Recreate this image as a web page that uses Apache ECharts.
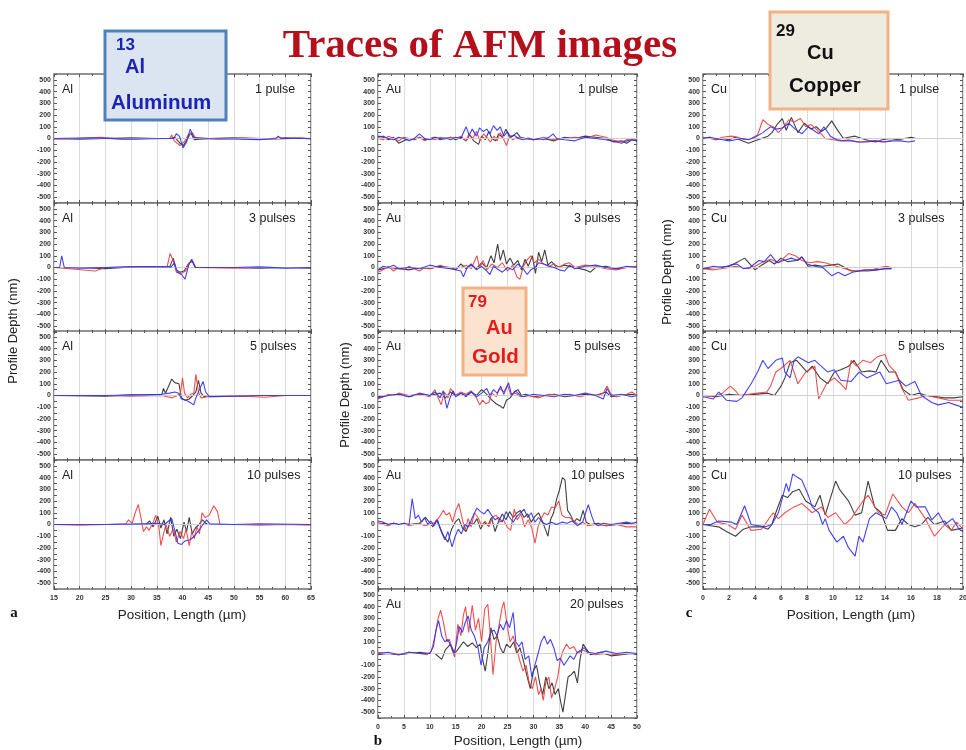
<!DOCTYPE html>
<html><head><meta charset="utf-8">
<script src="https://cdn.jsdelivr.net/npm/echarts@6/dist/echarts.min.js"></script>
<style>html,body{margin:0;padding:0;background:#fff;}#c{width:966px;height:750px;}</style>
</head><body><div id="c"></div>
<script>
// ---------- tick / axis definitions ----------
const yTickValues = [-500,-400,-300,-200,-100,0,100,200,300,400,500];
const alXTicks = [15,20,25,30,35,40,45,50,55,60,65];
const auXTicks = [0,5,10,15,20,25,30,35,40,45,50];
const cuXTicks = [0,2,4,6,8,10,12,14,16,18,20];
const alPulses = ['1 pulse','3 pulses','5 pulses','10 pulses'];
const auPulses = ['1 pulse','3 pulses','5 pulses','10 pulses','20 pulses'];
const cuPulses = ['1 pulse','3 pulses','5 pulses','10 pulses'];

// ---------- Al (a) ----------
const al1Black = [[15,0],[20,-5],[25,0],[30,5],[35,0],[37.5,0],[38.5,10],[39.5,-40],[40.2,-60],[41,0],[41.6,50],[42.3,-10],[45,0],[50,5],[55,-5],[60,5],[65,0]];
const al1Red = [[15,-5],[20,0],[24,10],[28,-5],[33,0],[37.5,0],[37.9,30],[38.4,-20],[39.5,-60],[40.3,-30],[41.1,30],[41.9,50],[42.6,0],[47,-5],[52,5],[58,-5],[63,5],[65,-5]];
const al1Blue = [[15,0],[22,5],[30,-5],[37,0],[38.3,0],[38.8,40],[39.4,20],[40.1,-80],[40.8,-30],[41.5,80],[42.2,10],[45,0],[55,-10],[58.2,0],[58.6,20],[59.2,0],[65,0]];

const al3Black = [[15,0],[20,0],[25,-10],[30,5],[35,5],[37.5,5],[38.2,80],[38.8,-20],[39.5,-40],[40.3,-30],[41,20],[41.8,60],[42.5,0],[50,0],[55,-5],[60,0],[65,-5]];
const al3Red = [[15,0],[18,-10],[23,-30],[25,0],[30,5],[37,5],[37.6,120],[38.2,60],[38.8,-40],[39.8,-50],[40.6,-30],[41.3,40],[42,50],[42.6,0],[50,-5],[57,0],[65,0]];
const al3Blue = [[15,0],[16.1,0],[16.5,100],[17,0],[20,-5],[25,0],[30,5],[37.8,5],[38.4,40],[39,-40],[39.8,-60],[40.5,-100],[41.2,20],[41.8,70],[42.5,0],[50,0],[55,5],[60,-5],[65,0]];

const al5Black = [[15,0],[25,-5],[30,5],[35,5],[36,10],[36.3,60],[36.7,20],[37.9,140],[38.5,110],[39.3,100],[39.8,-20],[40.5,-40],[41.3,-30],[42,0],[42.6,30],[43.1,130],[43.6,20],[44.2,-10],[45,0],[55,0],[65,0]];
const al5Red = [[15,0],[25,0],[30,-5],[36,0],[37,-10],[38,-20],[39,0],[39.6,20],[40,150],[40.4,20],[41,-20],[41.6,10],[42.2,20],[42.6,180],[43.1,30],[43.6,-20],[45,-10],[52,-5],[56,-15],[60,0],[65,0]];
const al5Blue = [[15,0],[25,0],[33,5],[36,10],[37.5,20],[38.5,30],[39.3,20],[39.8,-30],[40.7,-40],[41.5,-60],[42.2,-80],[42.6,-20],[43.3,50],[44,120],[44.5,30],[45.2,-10],[50,-5],[55,0],[65,0]];

const al10Black = [[15,0],[30,0],[33,5],[33.6,30],[34.3,-20],[35.2,70],[35.8,-30],[36.4,40],[37,-80],[37.7,60],[38.3,-100],[38.9,-40],[39.6,-120],[40.3,20],[40.8,-60],[41.3,60],[41.9,-80],[42.5,-30],[43.2,0],[43.9,40],[44.5,10],[45,0],[55,0],[65,0]];
const al10Red = [[15,0],[20,-5],[25,0],[29,5],[29.5,40],[30.2,10],[30.8,100],[31.4,170],[31.9,60],[32.4,-60],[33,-20],[33.5,-50],[34.2,10],[34.8,80],[35.4,-20],[35.8,-180],[36.3,-80],[36.8,0],[37.5,-100],[38.2,-40],[38.8,-150],[39.5,-60],[40.2,-120],[40.7,-40],[41.3,-180],[41.8,-60],[42.3,-120],[42.8,-20],[43.3,-80],[43.8,100],[44.4,60],[45.2,80],[46.1,160],[46.8,110],[47.3,0],[50,0],[55,-5],[60,0],[65,-5]];
const al10Blue = [[15,0],[25,0],[33,5],[35,10],[36.5,0],[37.3,30],[37.9,50],[38.5,-50],[39.1,-160],[39.8,-170],[40.5,-140],[41.5,-130],[42.3,-100],[43.2,-50],[44,0],[44.7,40],[45.3,5],[50,0],[55,5],[65,0]];

// ---------- Au (b) ----------
const au1Black = [[0,20],[1,10],[2,-10],[3,10],[4,-40],[5,-20],[6,0],[7,-10],[8,10],[9,-10],[10,0],[11,10],[12,-10],[13,0],[14,10],[15,-10],[16,10],[17,-20],[17.7,30],[18.5,-20],[19.4,-50],[20,20],[20.7,-10],[21.4,60],[22,0],[22.7,-20],[23.3,40],[24,10],[24.7,80],[25.3,20],[26,20],[26.8,50],[27.5,10],[28.5,0],[30,-10],[32,0],[34,-20],[36,10],[38,0],[40,20],[42,10],[44,0],[45.5,-30],[47,-20],[48,-40],[49,-10],[50,-20]];
const au1Red = [[0,0],[1,-10],[2,20],[3,0],[4,-20],[5,10],[6,0],[7,-10],[8,10],[9,-20],[10,0],[11,-10],[12,10],[13,-5],[14,10],[15,0],[16,20],[17,-20],[17.6,40],[18.3,0],[19,60],[19.7,-20],[20.4,40],[21,10],[21.7,-30],[22.4,20],[23,-20],[23.6,50],[24.2,0],[24.8,-60],[25.4,20],[26,-10],[27,10],[28,0],[30,-10],[32,10],[34,-10],[36,0],[38,10],[40,0],[42,30],[44,10],[45,-10],[46,-20],[47,-30],[48,-10],[49,0],[50,-10]];
const au1Blue = [[0,10],[1,20],[2,0],[3,-10],[4,10],[5,0],[6,-20],[7,0],[8,40],[9,0],[10,-10],[11,10],[12,0],[13,5],[14,-10],[15,10],[16,0],[17,100],[17.6,30],[18.2,80],[19,20],[19.6,90],[20.3,60],[21,80],[21.6,40],[22.3,110],[23,70],[23.6,100],[24.3,20],[25,60],[25.6,10],[26.3,30],[27,0],[28,-10],[29,5],[30,-10],[31,0],[32,-10],[33,10],[33.8,40],[34.5,0],[36,-10],[38,-20],[40,10],[42,0],[44,-10],[46,-30],[47,-40],[48,-20],[49,-10],[50,-20]];

const au3Black = [[0,-20],[2,0],[4,-10],[6,-20],[8,0],[10,-10],[12,10],[14,0],[15,-20],[16,30],[17,-10],[18,20],[19,-10],[20,40],[21,0],[21.8,100],[22.4,40],[23.1,200],[23.6,60],[24.2,150],[24.8,30],[25.5,80],[26.2,20],[27,60],[27.7,-20],[28.4,70],[29,10],[29.8,100],[30.4,-50],[31,130],[31.6,50],[32.2,150],[32.8,20],[33.5,50],[34.5,0],[36,20],[38,0],[40,-20],[41,-40],[42,0],[44,10],[46,-10],[48,0],[50,10]];
const au3Red = [[0,-40],[1,-20],[2,10],[3,-30],[4,0],[5,-20],[6,10],[7,-10],[8,-30],[9,0],[10,-10],[12,20],[14,-10],[16,0],[17,20],[18,-10],[19.1,100],[19.6,0],[20.3,60],[21,-20],[22,30],[23,0],[24,40],[25,-30],[26,20],[26.8,-80],[27.4,-100],[28,0],[28.7,60],[29.5,100],[30.2,40],[31,70],[32,30],[33,10],[34,30],[35,0],[36,30],[37,40],[38,0],[40,20],[42,10],[44,-10],[46,-20],[48,0],[50,10]];
const au3Blue = [[0,-20],[1,10],[2,0],[3,20],[4,-10],[6,0],[8,-10],[10,20],[12,0],[14,-10],[16,-30],[16.5,-80],[17.2,0],[18,30],[19,-20],[20,10],[21,-30],[21.6,-60],[22.3,10],[23,-10],[24,-40],[25,0],[26,-20],[27,30],[28,-10],[28.8,-60],[29.5,-20],[30.3,0],[31,40],[32,30],[33,10],[34,0],[35,-20],[36,-30],[37,20],[38,-10],[40,10],[42,20],[44,0],[46,-10],[48,10],[50,0]];

const au5Black = [[0,-10],[2,0],[4,10],[6,-10],[8,10],[10,0],[12,20],[13,-20],[14,30],[15,0],[16,20],[17,-10],[18,30],[19,0],[20,50],[21,10],[22,-40],[22.8,-70],[23.6,-90],[24.2,-110],[24.8,-40],[25.5,-20],[26.3,30],[27,50],[27.7,0],[28.5,10],[30,-10],[32,0],[34,10],[36,-10],[38,0],[40,10],[42,0],[44,30],[45,-10],[47,0],[49,10],[50,0]];
const au5Red = [[0,-30],[1,-10],[2,10],[3,0],[4,20],[6,0],[8,10],[10,-10],[11,50],[11.6,-20],[12.2,-80],[12.8,30],[13.5,-20],[14,60],[15,0],[16,30],[17,10],[18,40],[19,-20],[19.6,-80],[20.2,-40],[20.8,-70],[21.4,-60],[22,20],[22.8,-10],[23.5,60],[24.3,30],[25,90],[25.6,10],[26.5,20],[27.5,-10],[29,0],[31,-20],[33,10],[35,0],[37,10],[39,-10],[41,10],[42.5,0],[43.5,20],[44.2,80],[45,10],[46,-10],[48,10],[49,30],[50,0]];
const au5Blue = [[0,-20],[2,0],[4,10],[6,-10],[8,20],[10,0],[11,30],[12,-20],[12.6,40],[13.3,-110],[13.9,-20],[14.5,40],[15,-10],[16,20],[17,0],[18,30],[19,-10],[20,20],[21,60],[21.6,0],[22.3,50],[23,20],[23.7,80],[24.3,10],[25.2,110],[25.8,0],[26.5,40],[27.5,0],[28,-10],[30,10],[32,0],[34,-10],[36,10],[38,0],[40,20],[42,0],[43.5,-30],[44.2,60],[45,0],[47,10],[49,-10],[50,0]];

const au10Black = [[0,0],[1,10],[2,0],[3,10],[4,0],[6,0],[8,10],[9.2,60],[9.9,20],[10.6,-20],[11.3,40],[12,-30],[12.7,-100],[13.5,-150],[14.2,-40],[14.9,20],[15.6,50],[16.3,-30],[17,-60],[17.7,20],[18.4,0],[19.1,50],[19.8,-40],[20.5,20],[21.2,-10],[21.9,60],[22.6,-60],[23.3,30],[24,90],[24.7,40],[25.4,110],[26.1,60],[26.8,100],[27.5,120],[28.2,60],[28.9,90],[29.6,20],[30.3,70],[31,100],[31.7,30],[32.4,-50],[32.8,-100],[33.3,40],[33.9,100],[34.5,220],[35,290],[35.6,400],[36.1,380],[36.6,120],[37.2,80],[37.8,20],[38.4,50],[39,30],[39.6,120],[40.2,20],[41,0],[42.5,10],[44,-10],[46,0],[48,10],[50,0]];
const au10Red = [[0,20],[1,0],[2,-10],[3,10],[4,0],[5,10],[6,-10],[7,0],[8,10],[9,-10],[10,0],[11,20],[11.8,60],[12.6,120],[13.2,80],[13.8,100],[14.4,20],[15,120],[15.6,180],[16.2,60],[16.8,-50],[17.4,50],[18,-20],[18.6,100],[19.3,60],[20,-10],[20.7,30],[21.4,-20],[22.1,60],[22.8,80],[23.5,20],[24.2,40],[24.9,-20],[25.6,-50],[26.3,130],[26.9,40],[27.6,90],[28.3,-20],[29,40],[29.7,-30],[30.3,-160],[30.9,-20],[31.5,50],[32.1,100],[32.8,80],[33.5,150],[34.2,140],[34.9,200],[35.5,80],[36.2,60],[37,60],[37.8,30],[38.6,0],[39.5,20],[40.5,-10],[42,0],[44,-10],[46,0],[48,-20],[50,-20]];
const au10Blue = [[0,30],[1,20],[2,0],[3,10],[4,0],[5,10],[6,0],[6.6,220],[7.2,50],[7.8,80],[8.4,20],[9,60],[9.6,0],[10.2,30],[10.8,-10],[11.5,40],[12.2,-60],[12.9,-130],[13.5,-60],[14.3,-190],[14.9,-100],[15.5,-40],[16.1,-80],[16.8,0],[17.5,-20],[18.2,60],[19.1,140],[19.8,110],[20.5,90],[21.2,130],[21.9,80],[22.6,40],[23.3,60],[24,20],[24.7,110],[25.4,60],[26.1,20],[26.8,70],[27.5,100],[28.2,130],[28.9,60],[29.6,100],[30.3,20],[31,60],[31.7,20],[32.5,0],[33.5,20],[34.5,0],[35.5,20],[36.5,10],[37.5,30],[38.5,-10],[39.5,20],[40.1,100],[40.6,170],[41.2,80],[41.8,10],[42.5,-10],[43.5,10],[45,0],[46.5,10],[48,20],[49,10],[50,20]];

const au20Black = [[0,-10],[2,0],[4,-10],[6,0],[8,10],[10,0],[11,0],[12.3,-50],[13,30],[14,80],[14.8,0],[15.5,40],[16.5,100],[17.3,60],[18.2,90],[19,50],[19.7,80],[20.2,-50],[20.7,-150],[21.2,0],[21.8,220],[22.4,120],[23,150],[23.6,50],[24.2,0],[24.8,80],[25.5,50],[26.2,100],[26.8,0],[27.4,50],[28,-50],[28.8,-200],[29.4,-300],[30,-150],[30.6,-100],[31.2,-250],[31.8,-350],[32.4,-200],[33,-300],[33.6,-250],[34.2,-350],[34.8,-300],[35.3,-420],[35.7,-500],[36.2,-350],[36.7,-200],[37.3,-180],[37.9,-150],[38.5,-250],[39,-50],[39.6,80],[40.2,40],[41,-10],[43,10],[45,-20],[47,-10],[49,0],[50,-10]];
const au20Red = [[0,10],[2,0],[4,-10],[6,10],[8,0],[9.5,-10],[10.3,20],[11,150],[11.6,300],[12.1,370],[12.7,250],[13.3,100],[13.8,120],[14.3,30],[14.8,-30],[15.4,250],[16,150],[16.5,330],[16.9,400],[17.5,180],[18.2,410],[18.8,200],[19.4,300],[20,100],[20.6,380],[21.2,420],[21.7,150],[22.2,-180],[22.8,100],[23.4,250],[23.9,380],[24.3,440],[24.9,250],[25.5,100],[26.1,150],[26.7,50],[27.3,-50],[28,-150],[28.6,-100],[29.2,-250],[29.8,-300],[30.4,-200],[31,-350],[31.5,-300],[31.9,-400],[32.4,-250],[33,-200],[33.5,-380],[34.1,-300],[34.7,-200],[35.2,-50],[35.8,30],[36.4,80],[37,40],[37.8,60],[38.5,0],[39.5,30],[40.5,10],[42,-10],[44,0],[46,-10],[48,0],[50,0]];
const au20Blue = [[0,0],[2,10],[4,-10],[6,10],[8,0],[10,0],[10.7,60],[11.2,200],[11.7,280],[12.3,150],[12.9,100],[13.5,120],[14.1,60],[14.7,0],[15.2,100],[15.7,230],[16.3,180],[16.8,260],[17.4,320],[18,200],[18.6,150],[19.3,50],[19.9,-100],[20.5,50],[21.2,100],[21.8,180],[22.4,200],[23,150],[23.6,250],[24.2,200],[24.8,280],[25.4,220],[26.1,350],[26.6,100],[27.2,60],[27.8,100],[28.4,-50],[29.1,-20],[29.7,-200],[30.3,-100],[30.9,0],[31.5,100],[32.1,150],[32.7,80],[33.3,120],[34,40],[34.6,-60],[35.2,-40],[35.9,-100],[36.5,-60],[37.1,-20],[37.8,-50],[38.5,10],[39.2,30],[39.8,50],[40.5,10],[42,0],[44,20],[46,0],[48,10],[50,0]];

// ---------- Cu (c) ----------
const cu1Black = [[0,0],[0.5,10],[1,-10],[1.5,0],[2,-10],[2.5,10],[3,-20],[3.5,-40],[4,-20],[4.5,0],[5,20],[5.3,50],[5.7,120],[6.1,170],[6.4,70],[6.8,180],[7.3,50],[7.8,130],[8.3,80],[8.7,100],[9.1,60],[9.5,90],[9.9,150],[10.3,80],[10.8,0],[11.2,10],[11.7,20],[12.2,0],[12.8,-20],[13.3,-30],[13.8,-10],[14.4,0],[15,-10],[15.5,0],[16,10],[16.4,0],[16.8,0]];
const cu1Red = [[0,10],[0.5,0],[1,-10],[1.5,10],[2.2,20],[2.7,10],[3.2,-10],[3.7,0],[4.2,30],[4.6,160],[5,120],[5.4,100],[5.8,50],[6.2,100],[6.6,160],[7,140],[7.5,170],[7.9,100],[8.3,120],[8.7,80],[9.1,40],[9.4,0],[10,-10],[10.6,-20],[11.2,-10],[11.8,-30],[12.2,-30],[12.8,-20],[13.4,-20],[14,-30],[14.5,-20]];
const cu1Blue = [[0,0],[0.5,10],[1,0],[1.5,-10],[2,-20],[2.5,-10],[3,0],[3.5,-10],[4,10],[4.6,50],[5.2,100],[5.6,80],[6.1,90],[6.6,130],[7.1,80],[7.6,40],[8.1,100],[8.5,70],[8.9,40],[9.3,100],[9.8,20],[10.3,-10],[10.8,-20],[11.5,-20],[12,-30],[12.6,-30],[13.2,-20],[13.8,-30],[14.5,-20],[15.2,-20],[15.8,-30],[16.3,-20]];

const cu3Black = [[0,-10],[1,0],[2,10],[2.7,50],[3.2,80],[3.6,30],[4,-20],[4.5,20],[5.1,60],[5.5,30],[6,80],[6.5,50],[7.2,60],[7.6,90],[8.1,10],[8.6,20],[9.2,10],[9.8,20],[10.4,30],[10.9,0],[11.4,-30],[12,-30],[12.6,-20],[13.3,-20],[14,-10],[14.5,-10]];
const cu3Red = [[0,-10],[0.7,-20],[1.4,-10],[2,0],[2.5,10],[3,0],[3.5,-10],[4,10],[4.5,40],[5.2,70],[5.8,40],[6.2,80],[6.6,120],[7.1,100],[7.6,60],[8.2,40],[8.8,50],[9.4,40],[10,20],[10.6,0],[11.2,-20],[11.8,-30],[12.4,-20],[13,-20],[13.6,0],[14.1,10],[14.5,0]];
const cu3Blue = [[0,-10],[0.8,10],[1.5,0],[2.1,20],[2.6,30],[3.1,-10],[3.6,0],[4.3,60],[4.7,50],[5.2,110],[5.7,40],[6.2,60],[6.8,80],[7.3,60],[7.6,90],[8,30],[8.6,10],[9.2,0],[9.6,-40],[9.9,-70],[10.4,-40],[10.9,-70],[11.5,-40],[12,-30],[12.7,-30],[13.4,-20],[14,-10],[14.5,-10]];

const cu5Black = [[0,0],[1,-10],[2,10],[3,0],[4,10],[5,20],[5.5,0],[6,80],[6.3,150],[6.7,280],[7.2,300],[7.6,250],[8,200],[8.4,250],[9,150],[9.6,100],[10.1,200],[10.6,220],[11.2,250],[11.6,300],[12.2,200],[12.8,210],[13.3,200],[13.7,300],[14.3,200],[14.8,200],[15.4,50],[16,0],[16.6,20],[17.2,0],[18,-10],[18.6,-20],[19.3,-20],[20,-10]];
const cu5Red = [[0,0],[0.8,-10],[1.5,20],[2.1,80],[2.5,40],[2.8,0],[3.5,10],[4.2,20],[4.9,30],[5.2,80],[5.6,200],[6,230],[6.7,300],[7.3,100],[7.9,200],[8.6,250],[8.8,60],[8.9,-30],[9.5,100],[10.1,150],[10.6,100],[11,50],[11.4,300],[11.8,250],[12.3,300],[12.9,280],[13.4,330],[14,350],[14.3,260],[14.8,200],[15.3,60],[15.8,-40],[16.6,-20],[17.2,0],[18.1,-20],[18.9,-40],[20,-40]];
const cu5Blue = [[0,-10],[0.8,-30],[1.2,30],[1.8,-40],[2.6,-50],[3,-20],[3.7,100],[4.2,200],[4.6,300],[5,230],[5.6,300],[6.1,320],[6.3,200],[6.7,150],[7,300],[7.3,330],[8.1,280],[8.6,300],[9.6,200],[10.1,220],[10.6,130],[11.4,120],[12,200],[12.6,150],[13.6,200],[14.1,100],[15.1,130],[15.6,80],[16.3,120],[16.8,0],[17.6,-60],[18.1,-80],[18.9,-60],[19.4,-80],[20,-100]];

const cu10Black = [[0,0],[0.6,-10],[1.2,-20],[1.8,-60],[2.5,-100],[3.1,-40],[3.7,-20],[4.5,-20],[5,-40],[5.3,0],[5.6,100],[6.1,250],[6.5,230],[6.9,280],[7.4,300],[7.9,200],[8.6,150],[9,250],[9.4,80],[10.2,370],[10.5,300],[11.2,200],[11.7,80],[12.2,100],[12.7,370],[13.2,150],[13.7,100],[14.2,-50],[14.8,-50],[15.3,50],[15.8,0],[16.3,-20],[16.8,0],[17.3,60],[17.8,0],[18.6,30],[19.1,-50],[20,-30]];
const cu10Red = [[0,0],[0.5,130],[1.1,20],[1.9,0],[2.5,-40],[3,80],[3.7,-50],[4.5,-40],[5.4,100],[5.8,50],[6.3,100],[7,150],[7.6,180],[8.4,100],[9.1,150],[9.6,60],[10.2,100],[10.9,0],[11.4,50],[12.3,200],[12.7,250],[13.5,100],[14,80],[14.6,260],[15.3,150],[15.8,100],[16.3,180],[17.1,50],[17.8,-100],[18.6,0],[19.1,-50],[19.5,20],[20,-40]];
const cu10Blue = [[0,0],[0.6,0],[1.2,30],[2.2,20],[2.6,0],[3.2,160],[3.7,0],[4.8,-20],[5.3,0],[5.8,100],[6.4,350],[6.6,280],[6.9,430],[7.3,400],[7.6,380],[8.1,250],[8.4,150],[8.9,100],[9.2,0],[9.4,50],[9.7,-50],[10.3,-150],[10.8,-100],[11.2,-200],[11.7,-270],[12,-100],[12.3,-150],[12.8,50],[13.3,100],[14.1,50],[14.5,150],[14.9,100],[15.3,0],[16,200],[16.4,150],[17.1,150],[17.6,40],[18.1,100],[18.6,0],[19.2,50],[19.7,-40],[20,-60]];

// ---------- build ----------
const cols = [
  {left:54, width:257, ticks:alXTicks, elem:'Al', pulses:alPulses, pOff:[56,62,61,64], data:[[al1Black,al1Red,al1Blue],[al3Black,al3Red,al3Blue],[al5Black,al5Red,al5Blue],[al10Black,al10Red,al10Blue]]},
  {left:378, width:259, ticks:auXTicks, elem:'Au', pulses:auPulses, pOff:[59,63,63,66,67], data:[[au1Black,au1Red,au1Blue],[au3Black,au3Red,au3Blue],[au5Black,au5Red,au5Blue],[au10Black,au10Red,au10Blue],[au20Black,au20Red,au20Blue]]},
  {left:703, width:260, ticks:cuXTicks, elem:'Cu', pulses:cuPulses, pOff:[64,65,65,65], data:[[cu1Black,cu1Red,cu1Blue],[cu3Black,cu3Red,cu3Blue],[cu5Black,cu5Red,cu5Blue],[cu10Black,cu10Red,cu10Blue]]}
];
const rowTops = [74,203,331,460,589];
const rowH = 129;
const lineColors = ['#2b2b2b','#f03c3c','#2f2ff0'];
const labelFont = 'Arial, "Liberation Sans", sans-serif';

const grid = [], xAxis = [], yAxis = [], series = [], graphic = [];
let gi = 0;
const tickStyle = {show:true, inside:true, length:3, lineStyle:{color:'#555'}};
cols.forEach((c, ci) => {
  const xmin = c.ticks[0], xmax = c.ticks[c.ticks.length-1], xint = c.ticks[1]-c.ticks[0];
  c.data.forEach((traces, ri) => {
    const top = rowTops[ri];
    const last = ri === c.data.length-1;
    grid.push({left:c.left, top:top, width:c.width, height:rowH, show:true, borderColor:'#6e6e6e', borderWidth:1.5,
      backgroundColor:'#fff', containLabel:false, outerBoundsMode:'none'});
    xAxis.push({type:'value', gridIndex:gi, min:xmin, max:xmax, interval:xint, position:'bottom',
      axisLine:{show:false, onZero:false}, axisTick:tickStyle,
      minorTick:{show:true, splitNumber:2, length:2, lineStyle:{color:'#555'}},
      splitLine:{show:true, lineStyle:{color:'#dcdcdc', width:1}},
      axisLabel:{show:last, fontSize:7, color:'#333', margin:6, fontFamily:labelFont, fontWeight:'bold', hideOverlap:false}});
    xAxis.push({type:'value', gridIndex:gi, min:xmin, max:xmax, interval:xint, position:'top',
      axisLine:{show:false, onZero:false}, axisTick:tickStyle,
      minorTick:{show:true, splitNumber:2, length:2, lineStyle:{color:'#555'}},
      splitLine:{show:false}, axisLabel:{show:false}});
    yAxis.push({type:'value', gridIndex:gi, min:-550, max:550, interval:50, position:'left',
      axisLine:{show:false, onZero:false}, axisTick:tickStyle,
      splitLine:{show:false},
      axisLabel:{fontSize:7, color:'#333', margin:3, fontFamily:labelFont, fontWeight:'bold', hideOverlap:false,
        formatter:(v)=> yTickValues.indexOf(v) >= 0 ? String(v) : ''}});
    yAxis.push({type:'value', gridIndex:gi, min:-550, max:550, interval:50, position:'right',
      axisLine:{show:false, onZero:false}, axisTick:tickStyle,
      splitLine:{show:false}, axisLabel:{show:false}});
    traces.forEach((d, ti) => {
      const s = {type:'line', xAxisIndex:2*gi, yAxisIndex:2*gi, data:d, showSymbol:false, symbol:'none',
        lineStyle:{color:lineColors[ti], width:1.1, opacity:0.9}, animation:false, z:3+ti};
      if (ti === 0) {
        s.markLine = {silent:true, symbol:'none', label:{show:false}, animation:false,
          lineStyle:{color:'#cfcfcf', type:'solid', width:1}, data:[{yAxis:0}]};
      }
      series.push(s);
    });
    graphic.push({type:'text', left:c.left+8, top:top+9, z:20,
      style:{text:c.elem, fill:'#222', font:'12.5px ' + labelFont}});
    graphic.push({type:'text', left:c.left+c.width-c.pOff[ri], top:top+9, z:20,
      style:{text:c.pulses[ri], fill:'#222', font:'12.5px ' + labelFont}});
    gi++;
  });
});

// axis names
function yName(x, y) {
  graphic.push({type:'text', x:x, y:y, rotation:Math.PI/2, z:20,
    style:{text:'Profile Depth (nm)', font:'13px ' + labelFont, fill:'#222', textAlign:'center', textVerticalAlign:'middle'}});
}
yName(13, 331); yName(345, 395); yName(667, 272);
function xName(x, y) {
  graphic.push({type:'text', x:x, y:y, z:20,
    style:{text:'Position, Length (\u00b5m)', font:'13.5px ' + labelFont, fill:'#222', textAlign:'center', textVerticalAlign:'middle'}});
}
xName(182, 615); xName(518, 741); xName(851, 615);
function letter(t, x, y) {
  graphic.push({type:'text', x:x, y:y, z:20,
    style:{text:t, font:'bold 15px "Liberation Serif", serif', fill:'#111', textAlign:'center', textVerticalAlign:'middle'}});
}
letter('a', 14, 613); letter('b', 378, 741); letter('c', 689, 613);

// title
graphic.push({type:'text', x:480, y:46, z:30,
  style:{text:'Traces of AFM images', font:'bold 41px "Liberation Serif", "Times New Roman", serif', fill:'#b50f1c', textAlign:'center', textVerticalAlign:'middle'}});

// element boxes
function elemBox(x, y, w, h, fill, stroke, color, texts) {
  graphic.push({type:'rect', shape:{x:x, y:y, width:w, height:h}, z:40,
    style:{fill:fill, stroke:stroke, lineWidth:3}});
  texts.forEach(t => graphic.push({type:'text', x:t[1], y:t[2], z:41,
    style:{text:t[0], font:'bold ' + t[3] + 'px ' + labelFont, fill:color, textAlign:'left', textVerticalAlign:'middle'}}));
}
elemBox(105, 31, 121, 89, '#dbe5f1', '#4f81bd', '#1c22b4', [['13',116,45,17],['Al',125,67,20],['Aluminum',111,103,20.5]]);
elemBox(463, 288, 63, 87, '#fce3d0', '#f4b183', '#e41b1b', [['79',468,302,17],['Au',486,328,20],['Gold',472,357,20.5]]);
elemBox(770, 12, 118, 97, '#eeece1', '#f4b183', '#111', [['29',776,31,17],['Cu',807,53,20],['Copper',789,86,20.5]]);

const chart = echarts.init(document.getElementById('c'), null, {renderer:'canvas'});
chart.setOption({animation:false, backgroundColor:'#fff', grid, xAxis, yAxis, series, graphic});
</script>
</body></html>
